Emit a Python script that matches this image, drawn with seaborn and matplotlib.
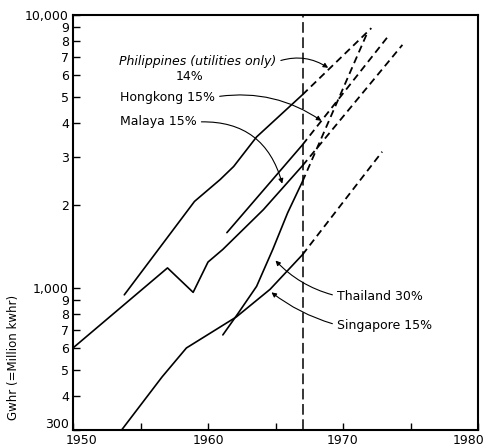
import matplotlib
matplotlib.use('Agg')
import matplotlib.pyplot as plt
import matplotlib.ticker as mticker
import matplotlib.transforms as mtrans
import seaborn as sns

sns.set_style('ticks')
plt.rcParams['font.family'] = ['DejaVu Sans']
plt.rcParams['text.color'] = 'black'

# solid (recorded) part of each series
phil_years = [1953.8, 1959.0, 1960.9, 1961.9, 1963.6, 1967.0]
phil_vals = [940, 2070, 2490, 2780, 3570, 5100]
hk_years = [1961.4, 1967.0]
hk_vals = [1590, 3340]
malaya_years = [1950.0, 1957.0, 1958.9, 1960.0, 1961.1, 1964.1, 1967.0]
malaya_vals = [600, 1180, 960, 1240, 1380, 1930, 2800]
thai_years = [1961.1, 1962.2, 1963.6, 1964.8, 1965.9, 1967.0]
thai_vals = [670, 800, 1010, 1380, 1880, 2450]
sing_years = [1953.6, 1956.6, 1958.4, 1962.1, 1964.6, 1967.0]
sing_vals = [300, 470, 600, 780, 985, 1320]

# dashed projections
phil_proj_years = [1967.0, 1972.1]
phil_proj_vals = [5100, 8950]
hk_proj_years = [1967.0, 1973.3]
hk_proj_vals = [3340, 8300]
malaya_proj_years = [1967.0, 1974.4]
malaya_proj_vals = [2800, 7770]
thai_proj_years = [1967.0, 1971.8]
thai_proj_vals = [2450, 8600]
sing_proj_years = [1967.0, 1972.9]
sing_proj_vals = [1320, 3150]

y_ticks = [300, 400, 500, 600, 700, 800, 900, 1000, 2000, 3000, 4000, 5000,
           6000, 7000, 8000, 9000, 10000]
y_labels = ['300', '4', '5', '6', '7', '8', '9', '1,000', '2', '3', '4', '5',
            '6', '7', '8', '9', '10,000']
x_ticks = [1950, 1955, 1960, 1965, 1970, 1975, 1980]
x_labels = ['1950', '', '1960', '', '1970', '', '1980']

fig = plt.figure(figsize=(4.86, 4.47), dpi=100)
ax = fig.add_axes([73 / 486, 1 - 430 / 447, 405 / 486, 415 / 447])

solid = [(phil_years, phil_vals), (hk_years, hk_vals), (malaya_years, malaya_vals),
         (thai_years, thai_vals), (sing_years, sing_vals)]
proj = [(phil_proj_years, phil_proj_vals), (hk_proj_years, hk_proj_vals),
        (malaya_proj_years, malaya_proj_vals), (thai_proj_years, thai_proj_vals),
        (sing_proj_years, sing_proj_vals)]

for xs, ys in solid:
    sns.lineplot(x=xs, y=ys, color='black', lw=1.2, sort=False, estimator=None, ax=ax)
for xs, ys in proj:
    sns.lineplot(x=xs, y=ys, color='black', lw=1.3, sort=False, estimator=None,
                 linestyle=(0, (4, 2.5)), ax=ax)

ax.axvline(1967, color='black', lw=1.1, linestyle=(0, (7, 3)))

ax.set_yscale('log')
ax.set_xlim(1950, 1980)
ax.set_ylim(300, 10000)
ax.yaxis.set_minor_locator(mticker.NullLocator())
ax.set_yticks(y_ticks, labels=y_labels)
ax.set_xticks(x_ticks, labels=x_labels)
ax.tick_params(direction='in', length=5, width=1, labelsize=9, pad=3, colors='black')
for sp in ax.spines.values():
    sp.set_visible(True)
    sp.set_linewidth(1.5)
    sp.set_color('black')
ax.set_xlabel('')
ax.set_ylabel('')

# nudge corner labels like the original
px = 1 / 72
ylab = ax.get_yticklabels()
ylab[0].set_transform(ylab[0].get_transform() +
                      mtrans.ScaledTranslation(0, 5 * px, fig.dpi_scale_trans))
xlab = ax.get_xticklabels()
xlab[0].set_transform(xlab[0].get_transform() +
                      mtrans.ScaledTranslation(6 * px, 0, fig.dpi_scale_trans))
xlab[-1].set_transform(xlab[-1].get_transform() +
                       mtrans.ScaledTranslation(-7 * px, 0, fig.dpi_scale_trans))

fig.text(13 / 486, 1 - 357 / 447, 'Gwhr (=Million kwhr)', rotation=90,
         ha='center', va='center', fontsize=8.5, color='black')

def label(text, xy, pos, rad, relpos=(1, 0.5), style='normal'):
    ax.annotate(text, xy=xy, xycoords='data', xytext=pos, textcoords='figure fraction',
                ha='left', va='center', fontsize=9, fontstyle=style, color='black',
                arrowprops=dict(arrowstyle='-|>', color='black', lw=0.8,
                                mutation_scale=7, relpos=relpos, shrinkA=1, shrinkB=0,
                                connectionstyle=f'arc3,rad={rad}'))

label('Philippines (utilities only)', (1968.9, 6400), (119 / 486, 1 - 62 / 447), -0.25,
      style='italic')
fig.text(190 / 486, 1 - 76 / 447, '14%', ha='center', va='center', fontsize=9,
         color='black')
label('Hongkong 15%', (1968.4, 4090), (120 / 486, 1 - 97 / 447), -0.2)
label('Malaya 15%', (1965.5, 2405), (120 / 486, 1 - 122 / 447), -0.4)
label('Thailand 30%', (1965.0, 1256), (337 / 486, 1 - 296 / 447), -0.15, relpos=(0, 0.5))
label('Singapore 15%', (1964.7, 960), (337 / 486, 1 - 325 / 447), -0.1, relpos=(0, 0.5))

fig.savefig('out.png', dpi=100)
